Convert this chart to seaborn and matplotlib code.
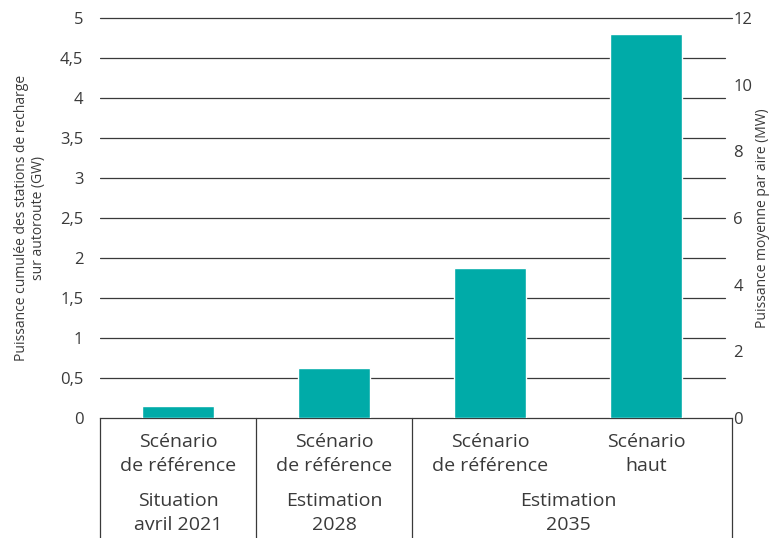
import matplotlib
matplotlib.use("Agg")
import matplotlib.pyplot as plt
import seaborn as sns
import pandas as pd

# Données
scenarios = ["Scénario\nde référence", "Scénario\nde référence", "Scénario\nde référence", "Scénario\nhaut"]
puissance_gw = [0.15, 0.63, 1.88, 4.8]
groupes = ["Situation\navril 2021", "Estimation\n2028", "Estimation\n2035"]
groupes_span = [(0, 0), (1, 1), (2, 3)]
ticks_gw = [0, 0.5, 1, 1.5, 2, 2.5, 3, 3.5, 4, 4.5, 5]
ticks_mw = [0, 2, 4, 6, 8, 10, 12]

sns.set_style("white")
plt.rcParams['font.family'] = ['Open Sans', 'DejaVu Sans']
couleur = "#00aba8"
gris = "#3a3a3a"

df = pd.DataFrame({"pos": range(len(puissance_gw)), "gw": puissance_gw})

fig = plt.figure(figsize=(7.76, 5.38), dpi=100)
ax = fig.add_axes([100 / 776, 120 / 538, 632 / 776, 400 / 538])

sns.barplot(data=df, x="pos", y="gw", color=couleur, width=0.46,
            saturation=1, ax=ax, zorder=3)

ax.set_xlim(-0.5, 3.55)
ax.set_ylim(0, 5)
ax.set_yticks(ticks_gw)
ax.set_yticklabels([f"{t:g}".replace(".", ",") for t in ticks_gw], fontsize=12, color=gris)
ax.tick_params(axis="y", length=0, pad=12)
for t in ticks_gw[1:-1]:
    ax.axhline(t, xmax=0.989, color=gris, lw=0.9, zorder=1)
ax.axhline(5, color=gris, lw=0.9, zorder=1, clip_on=False)
for s in ["top", "right", "left"]:
    ax.spines[s].set_visible(False)
ax.spines["bottom"].set_color(gris)
ax.spines["bottom"].set_linewidth(0.9)

ax.set_xticks([])
ax.set_xlabel("")
ax.set_ylabel("Puissance cumulée des stations de recharge\nsur autoroute (GW)",
              fontsize=10, color=gris, labelpad=10)

# Axe droit (MW)
ax2 = ax.twinx()
ax2.set_ylim(0, 12)
ax2.set_yticks(ticks_mw)
ax2.set_yticklabels([str(t) for t in ticks_mw], fontsize=12, color=gris)
ax2.tick_params(axis="y", length=0, pad=1)
for s in ["top", "left", "bottom", "right"]:
    ax2.spines[s].set_visible(False)
ax2.set_ylabel("Puissance moyenne par aire (MW)", fontsize=10, color=gris)
ax2.yaxis.set_label_coords(1.037, 0.5)

# Étiquettes à deux niveaux
trans = ax.get_xaxis_transform()
for i, lab in enumerate(scenarios):
    ax.text(i, -0.09, lab, transform=trans, ha="center", va="center",
            fontsize=14, color=gris, linespacing=1.4)
for lab, (a, b) in zip(groupes, groupes_span):
    ax.text((a + b) / 2, -0.237, lab, transform=trans, ha="center", va="center",
            fontsize=14, color=gris, linespacing=1.4)
for xs in [-0.5, 0.5, 1.5, 3.55]:
    ax.plot([xs, xs], [0, -0.3], transform=trans, color=gris, lw=0.9, clip_on=False)

fig.savefig("out.png", dpi=100)
